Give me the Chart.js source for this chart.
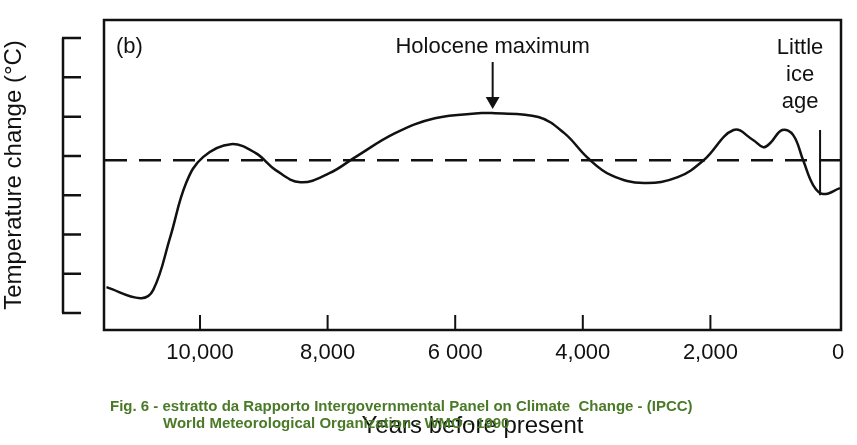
<!DOCTYPE html>
<html>
<head>
<meta charset="utf-8">
<script src="https://cdn.jsdelivr.net/npm/chart.js@4"></script>
<style>
  html, body { margin: 0; padding: 0; background: #fff; }
</style>
</head>
<body>
<canvas id="holocene" width="857" height="445"></canvas>
<script>
// Years before present (as placed on the figure's axis) and temperature change (tick units)
var years = [11466, 10936, 10733, 10468, 10218, 9953, 9516, 9126, 8814, 8424, 7972, 7566, 6942, 6318,
             5585, 5429, 4696, 4290, 3916, 3557, 3042, 2512, 2106, 1638, 1326, 1170, 1061, 874, 702, 546, 390, 234, -31];
var temps = [0.66, 0.38, 0.59, 1.93, 3.31, 3.97, 4.30, 4.07, 3.64, 3.33, 3.56, 3.97, 4.58, 4.96,
             5.09, 5.09, 4.99, 4.58, 3.94, 3.51, 3.31, 3.46, 3.89, 4.66, 4.40, 4.22, 4.33, 4.66, 4.53, 3.89, 3.26, 3.03, 3.18];
var referenceLevel = 3.89;
var xTicks = [10000, 8000, 6000, 4000, 2000, 0];
var xTickLabels = ['10,000', '8,000', '6 000', '4,000', '2,000', '0'];
var yTicks = [0, 1, 2, 3, 4, 5, 6, 7];
var holoceneYear = 5413;
var iceAgeYear = 281;

var xMin = -47, xMax = 11505;
var ink = '#111';

var curve = years.map(function (y, i) { return { x: y, y: temps[i] }; });

// frame, bracket of y ticks, inner x ticks, notes and caption
var decorations = {
  id: 'decorations',
  afterDraw: function (chart) {
    var ctx = chart.ctx, a = chart.chartArea;
    var xs = chart.scales.x, ys = chart.scales.y;
    ctx.save();
    ctx.strokeStyle = ink;
    ctx.lineWidth = 2.5;
    ctx.strokeRect(a.left, a.top, a.right - a.left, a.bottom - a.top);

    // left bracket with ticks
    var top = ys.getPixelForValue(yTicks[yTicks.length - 1]);
    var bot = ys.getPixelForValue(yTicks[0]);
    ctx.beginPath();
    ctx.moveTo(63, top); ctx.lineTo(63, bot);
    yTicks.forEach(function (v) {
      var p = ys.getPixelForValue(v);
      ctx.moveTo(62, p); ctx.lineTo(81, p);
    });
    ctx.stroke();

    // inner ticks on the bottom axis
    ctx.lineWidth = 2;
    ctx.beginPath();
    xTicks.slice(0, -1).forEach(function (v) {
      var p = xs.getPixelForValue(v);
      ctx.moveTo(p, a.bottom); ctx.lineTo(p, a.bottom - 15);
    });
    ctx.stroke();

    ctx.fillStyle = ink;
    ctx.font = '22px "Liberation Sans", Arial, sans-serif';
    ctx.textBaseline = 'middle';
    ctx.textAlign = 'left';
    ctx.fillText('(b)', 116, 47);
    ctx.textAlign = 'center';
    ctx.fillText('Holocene maximum', xs.getPixelForValue(holoceneYear), 47);
    var lx = xs.getPixelForValue(iceAgeYear) - 20;
    ctx.fillText('Little', lx, 48);
    ctx.fillText('ice', lx, 75);
    ctx.fillText('age', lx, 102);

    ctx.fillStyle = '#4a7a28';
    ctx.font = 'bold 15px "Liberation Sans Narrow", "Arial Narrow", sans-serif';
    ctx.textAlign = 'left';
    ctx.fillText('Fig. 6 - estratto da Rapporto Intergovernmental Panel on Climate  Change - (IPCC)', 110, 407);
    ctx.fillText('World Meteorological Organization - WMO - 1990', 163, 424);
    ctx.restore();
  }
};

new Chart(document.getElementById('holocene'), {
  type: 'line',
  data: {
    datasets: [
      { data: curve, borderColor: ink, borderWidth: 2.5, pointRadius: 0, tension: 0.4, fill: false },
      { data: [{ x: xMin, y: referenceLevel }, { x: xMax, y: referenceLevel }],
        borderColor: ink, borderWidth: 2.5, borderDash: [22, 12], pointRadius: 0 },
      { data: [{ x: iceAgeYear, y: 4.66 }, { x: iceAgeYear, y: 3.0 }],
        borderColor: ink, borderWidth: 2, pointRadius: 0 },
      { data: [{ x: holoceneYear, y: 6.39 }, { x: holoceneYear, y: 5.4 }],
        borderColor: ink, borderWidth: 2,
        pointRadius: [0, 6], pointStyle: 'triangle', rotation: 180,
        pointBackgroundColor: ink, pointBorderColor: ink }
    ]
  },
  options: {
    responsive: false,
    animation: false,
    events: [],
    layout: { padding: { top: 20, right: 16, left: 0, bottom: 0 } },
    plugins: { legend: { display: false }, tooltip: { enabled: false } },
    scales: {
      x: {
        type: 'linear', reverse: true, min: xMin, max: xMax,
        afterBuildTicks: function (s) { s.ticks = xTicks.map(function (v) { return { value: v }; }); },
        afterFit: function (s) { s.height = 115; },
        grid: { display: false, drawTicks: false },
        border: { display: false },
        ticks: {
          color: ink, padding: 10, maxRotation: 0, autoSkip: false,
          font: { family: '"Liberation Sans", Arial, sans-serif', size: 22 },
          callback: function (v) { return xTickLabels[xTicks.indexOf(v)]; }
        },
        title: {
          display: true, text: 'Years before present', color: ink, padding: { top: 0 },
          font: { family: '"Liberation Sans", Arial, sans-serif', size: 24 }
        }
      },
      y: {
        min: -0.43, max: 7.46,
        afterFit: function (s) { s.width = 104; },
        grid: { display: false, drawTicks: false },
        border: { display: false },
        ticks: { display: false },
        title: {
          display: true, text: 'Temperature change (°C)', color: ink, padding: { top: 0, bottom: 0 },
          font: { family: '"Liberation Sans", Arial, sans-serif', size: 24 }
        }
      }
    }
  },
  plugins: [decorations]
});
</script>
</body>
</html>
